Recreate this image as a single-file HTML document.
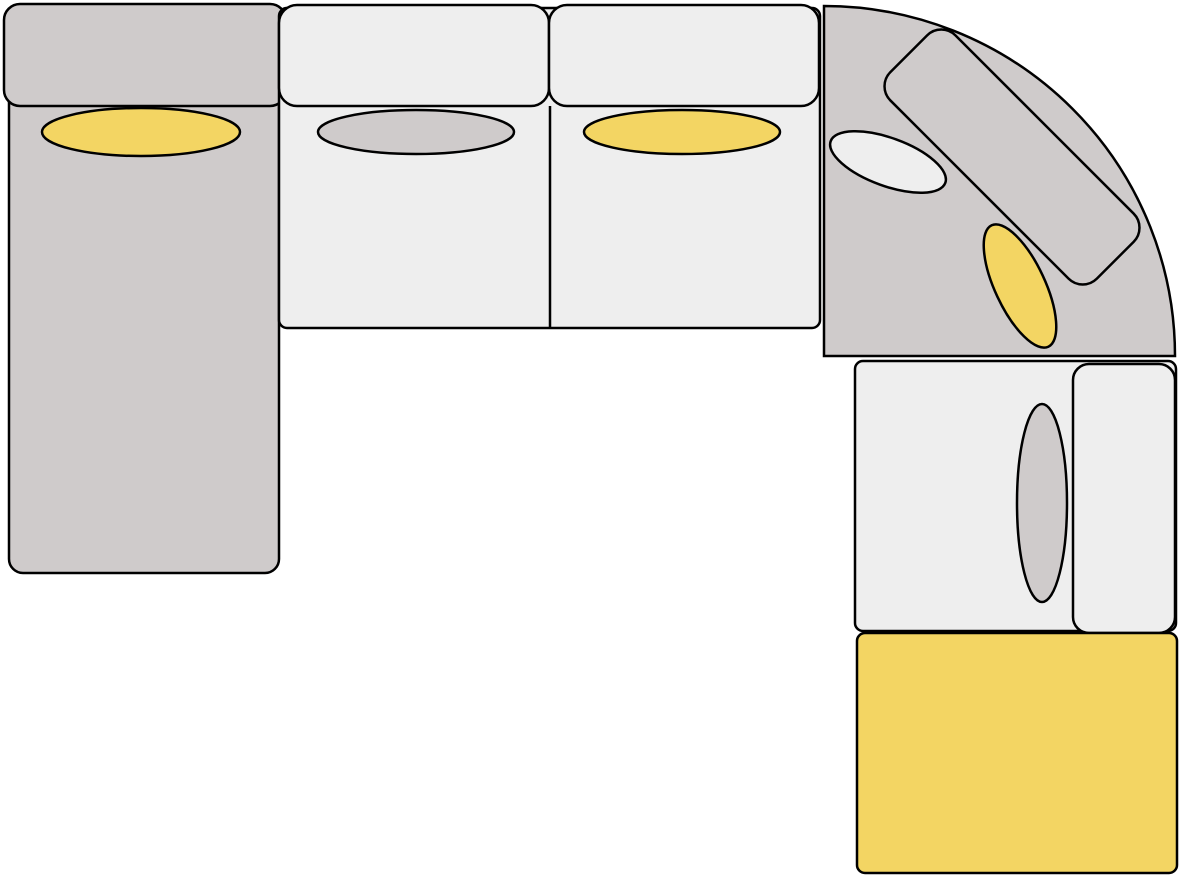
<!DOCTYPE html>
<html><head><style>html,body{margin:0;padding:0;background:#fff}svg{display:block}</style></head>
<body>
<svg width="1180" height="876" viewBox="0 0 1180 876" xmlns="http://www.w3.org/2000/svg">
<g stroke="#000" stroke-width="2.5">
<rect x="9" y="6" width="270" height="567" rx="14" fill="#cfcbcb"/>
<rect x="4" y="4" width="282" height="102" rx="16" fill="#cfcbcb"/>
<ellipse cx="141" cy="132" rx="99" ry="24" fill="#f3d563"/>
<rect x="279" y="8" width="541" height="320" rx="8" fill="#eeeeee"/>
<line x1="550" y1="106" x2="550" y2="328"/>
<rect x="279" y="5" width="270" height="101" rx="18" fill="#eeeeee"/>
<rect x="549" y="5" width="270" height="101" rx="18" fill="#eeeeee"/>
<ellipse cx="416" cy="132" rx="98" ry="22" fill="#cfcbcb"/>
<ellipse cx="682" cy="132" rx="98" ry="22" fill="#f3d563"/>
<path d="M824,6 L824,356 L1175,356 A351,350 0 0 0 824,6 Z" fill="#cfcbcb"/>
<rect x="866" y="111" width="292" height="92" rx="20" fill="#cfcbcb" transform="rotate(45 1012 157)"/>
<ellipse cx="888" cy="162" rx="61" ry="24" fill="#eeeeee" transform="rotate(20 888 162)"/>
<ellipse cx="1020" cy="286" rx="25" ry="67" fill="#f3d563" transform="rotate(-25 1020 286)"/>
<rect x="855" y="361" width="321" height="270" rx="8" fill="#eeeeee"/>
<rect x="1073" y="364" width="102" height="269" rx="16" fill="#eeeeee"/>
<ellipse cx="1042" cy="503" rx="25" ry="99" fill="#cfcbcb"/>
<rect x="857" y="633" width="320" height="240" rx="8" fill="#f3d563"/>
</g>
</svg>
</body></html>
